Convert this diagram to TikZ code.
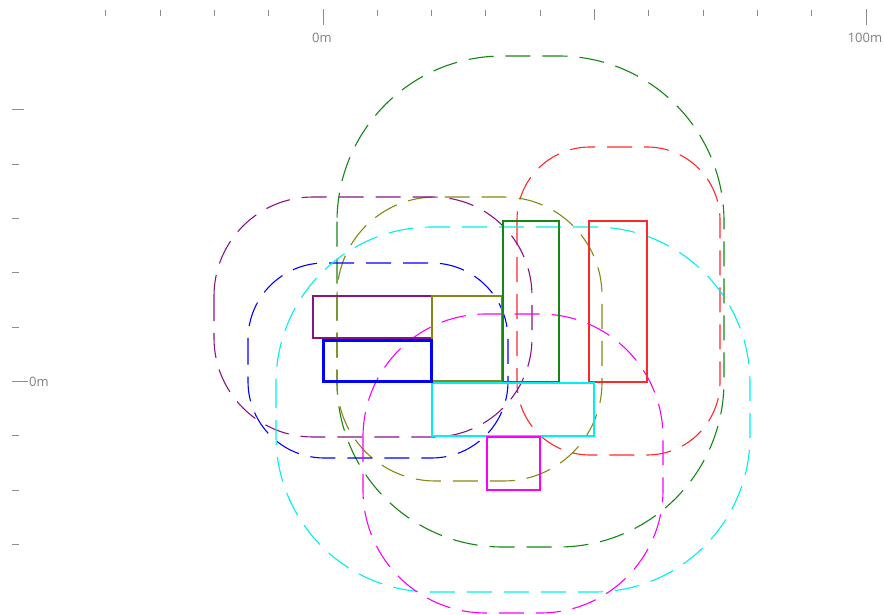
\documentclass[tikz,border=0pt]{standalone}
\usepackage{fontspec}
\setmainfont{Open Sans}
\begin{document}
\begin{tikzpicture}[x=1pt,y=-1pt,
  tick/.style={draw=gray!90, line width=1pt},
  lbl/.style={text=gray, font=\fontsize{13}{13}\selectfont, inner sep=0pt},
  buf/.style={dash pattern=on 25pt off 12pt, line width=1.1pt},
  box/.style={line width=1.5pt}]
\definecolor{cgreen}{RGB}{20,135,20}
\definecolor{cred}{RGB}{255,40,40}
\definecolor{colive}{RGB}{135,135,20}
\definecolor{cpurple}{RGB}{135,20,135}
\definecolor{cblue}{RGB}{0,0,255}
\definecolor{ccyan}{RGB}{0,240,240}
\definecolor{cmag}{RGB}{250,0,250}
\useasboundingbox (0,0) rectangle (884,615);
% top ruler
\foreach \i in {-4,...,10} {
  \pgfmathsetmacro{\xx}{323+54.3*\i}
  \ifnum\i=0 \draw[tick] (\xx,9) -- (\xx,25);
  \else\ifnum\i=10 \draw[tick] (\xx,9) -- (\xx,25);
  \else\ifnum\i=5 \draw[tick] (\xx,9) -- (\xx,20);
  \else \draw[tick] (\xx,10) -- (\xx,16);
  \fi\fi\fi
}
\node[lbl] (t0) at (322,38) {0m};
\node[lbl] (t100) at (865,38) {100m};
% left ruler
\foreach \j in {-3,...,5} {
  \pgfmathsetmacro{\yy}{381.5-54.3*\j}
  \ifnum\j=0 \draw[tick] (12,\yy) -- (28,\yy);
  \else\ifnum\j=5 \draw[tick] (12,\yy) -- (24,\yy);
  \else \draw[tick] (12,\yy) -- (19,\yy);
  \fi\fi
}
\node[lbl, anchor=west] (l0) at (29,382) {0m};
% buffers
\draw[buf, cgreen, rounded corners=165.5pt] (337,56) rectangle (724,547);
\draw[buf, cred, rounded corners=73pt] (517,147) rectangle (720,455);
\draw[buf, colive, rounded corners=98.5pt] (337,197) rectangle (602,481);
\draw[buf, cpurple, rounded corners=99pt] (214,197) rectangle (532,437);
\draw[buf, cblue, rounded corners=76.5pt] (248,263) rectangle (508,458);
\draw[buf, ccyan, rounded corners=156pt] (276,227) rectangle (750,592);
\draw[buf, cmag, rounded corners=123pt] (363,314) rectangle (663,613);
% footprints
\draw[box, cpurple] (313,296) rectangle (432,338);
\draw[box, colive] (432,296) rectangle (502,381);
\draw[box, cgreen] (503,221) rectangle (559,382);
\draw[box, cred] (589,221) rectangle (647,382);
\draw[box, ccyan] (432,383) rectangle (594,436);
\draw[box, cmag] (487,437) rectangle (540,490);
\draw[cblue, line width=3pt] (323,340) rectangle (431,381);
\end{tikzpicture}
\end{document}
